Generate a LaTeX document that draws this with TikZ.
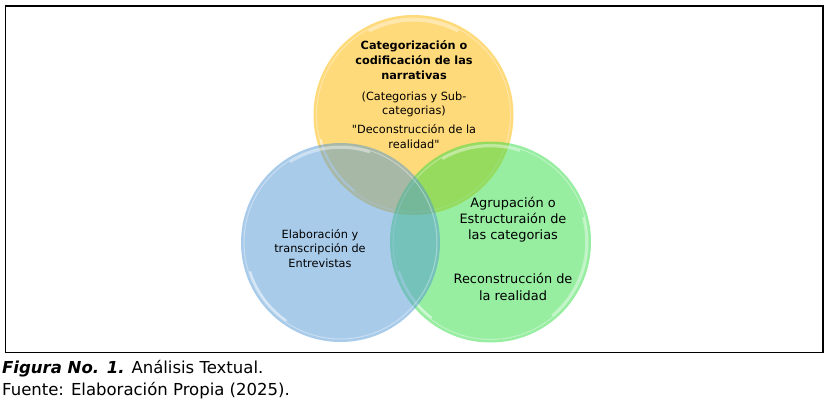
\documentclass[tikz,border=0pt]{standalone}
\usepackage{fontspec}
\setmainfont{DejaVu Sans}
\definecolor{ycol}{RGB}{255,218,122}
\definecolor{bcol}{RGB}{83,151,213}
\definecolor{gcol}{RGB}{47,221,67}
\begin{document}
\begin{tikzpicture}[x=1pt,y=-1pt,
  ln/.style={anchor=base,inner sep=0pt,font=\fontsize{11.3}{14}\selectfont},
  lnb/.style={ln,font=\fontsize{11.3}{14}\selectfont\bfseries},
  lng/.style={anchor=base,inner sep=0pt,font=\fontsize{12.9}{16}\selectfont},
  captext/.style={anchor=base west,inner sep=0pt,font=\fontsize{16.5}{22}\selectfont},
  rim/.style={draw=white,draw opacity=0.35,line width=1pt},
  gloss/.style={draw=white,draw opacity=0.55,line width=2pt,line cap=round}]
\useasboundingbox (0,0) rectangle (828,404);
\draw[line width=1.3pt] (5.5,6) rectangle (823,352.5);
% circles
\coordinate (cy) at (413.5,115);
\coordinate (cb) at (340.5,242.5);
\coordinate (cg) at (490.5,242);
\fill[ycol] (cy) circle[radius=100pt];
\draw[rim] (cy) circle[radius=97pt];
\draw[gloss] ([shift={(195:96pt)}]cy) arc[start angle=195,end angle=232,radius=96pt];
\draw[draw=white,draw opacity=0.4,line width=3pt] ([shift={(62:95pt)}]cy) arc[start angle=62,end angle=118,radius=95pt];
\fill[gcol,fill opacity=0.5] (cg) circle[radius=100.5pt];
\draw[rim] (cg) circle[radius=97.5pt];
\draw[gloss] ([shift={(198:96pt)}]cg) arc[start angle=198,end angle=232,radius=96pt];
\draw[draw=white,draw opacity=0.4,line width=2.5pt] ([shift={(-50:96pt)}]cg) arc[start angle=-50,end angle=15,radius=96pt];
\draw[draw=white,draw opacity=0.4,line width=2.5pt] ([shift={(72:96pt)}]cg) arc[start angle=72,end angle=120,radius=96pt];
\fill[bcol,fill opacity=0.5] (cb) circle[radius=99.5pt];
\draw[rim] (cb) circle[radius=96.5pt];
\draw[gloss] ([shift={(198:95pt)}]cb) arc[start angle=198,end angle=235,radius=95pt];
\draw[draw=white,draw opacity=0.4,line width=2.5pt] ([shift={(72:95pt)}]cb) arc[start angle=72,end angle=122,radius=95pt];
% yellow text
\node[lnb] (y1) at (414,50) {Categorización o};
\node[lnb] (y2) at (414,65) {codificación de las};
\node[lnb] (y3) at (414,80) {narrativas};
\node[ln] (y4) at (414,100) {(Categorias y Sub-};
\node[ln] (y5) at (414,114) {categorias)};
\node[ln] (y6) at (414,133.5) {\textquotedbl Deconstrucción de la};
\node[ln] (y7) at (414,148) {realidad\textquotedbl};
% blue text
\node[ln] (b1) at (320,238) {Elaboración y};
\node[ln] (b2) at (320,252.5) {transcripción de};
\node[ln] (b3) at (320,267) {Entrevistas};
% green text
\node[lng] (g1) at (513,207) {Agrupación o};
\node[lng] (g2) at (513,223) {Estructuraión de};
\node[lng] (g3) at (513,239) {las categorias};
\node[lng] (g4) at (513,283.5) {Reconstrucción de};
\node[lng] (g5) at (513,300) {la realidad};
% caption
\node[captext] (c1) at (2,373) {{\bfseries\itshape Figura No. 1.} Análisis Textual.};
\node[captext] (c2) at (2,395) {Fuente: Elaboración Propia (2025).};
\end{tikzpicture}
\end{document}
